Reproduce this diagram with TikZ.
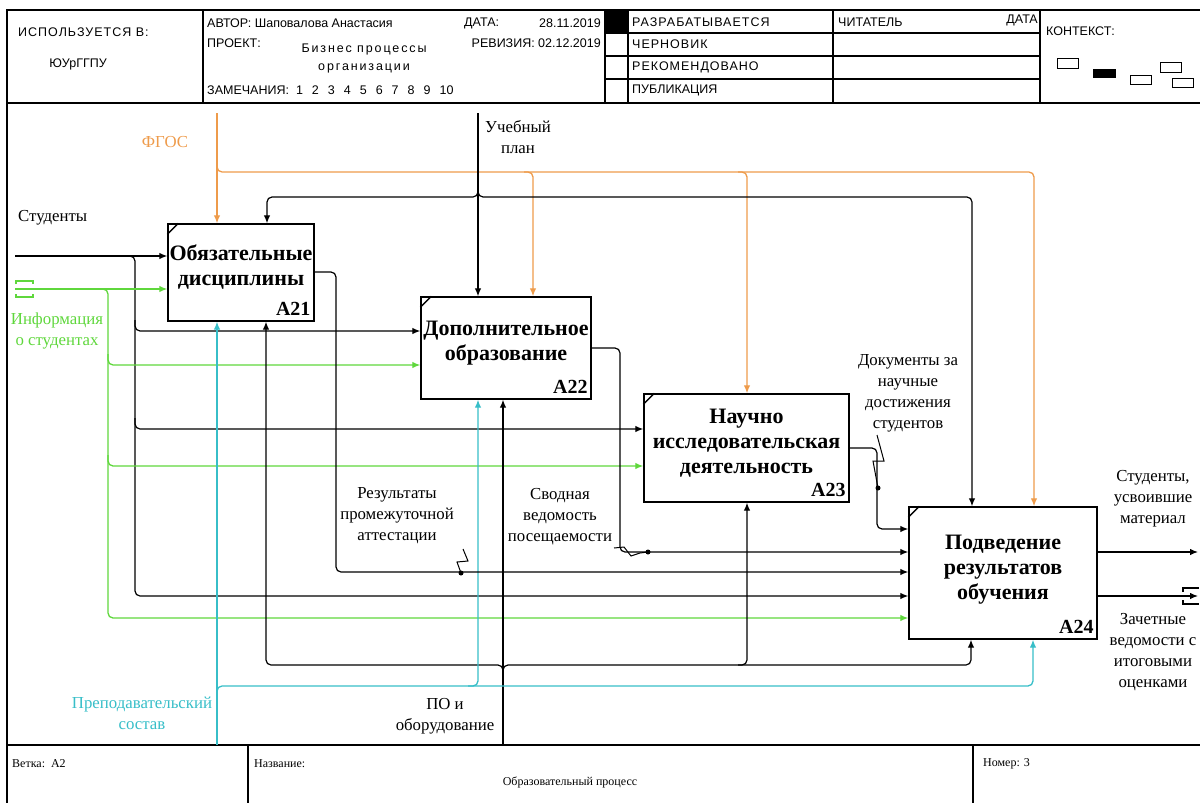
\documentclass[tikz,border=0pt]{standalone}
\usepackage{fontspec}
\setmainfont{Liberation Serif}
\newfontfamily\hdfont{Liberation Sans}
\newfontfamily\hdsp[LetterSpace=15]{Liberation Sans}
\newfontfamily\hdspn[LetterSpace=8]{Liberation Sans}
\usetikzlibrary{arrows.meta}
\definecolor{orng}{RGB}{238,155,75}
\definecolor{grn}{RGB}{95,215,60}
\definecolor{cyn}{RGB}{55,190,200}
\tikzset{
  ln/.style={line width=1.2pt, draw=black},
  arr/.style={-{Latex[length=8pt,width=6.5pt]}},
  rc/.style={rounded corners=5pt},
  og/.style={line width=1.3pt, draw=orng},
  gn/.style={line width=1.3pt, draw=grn},
  cy/.style={line width=1.3pt, draw=cyn},
  fbox/.style={draw, line width=1.4pt, inner sep=0pt},
  ftitle/.style={font=\fontsize{22}{25}\selectfont\bfseries, align=center, inner sep=0pt},
  fnum/.style={font=\fontsize{20}{22}\selectfont\bfseries, inner sep=0pt, anchor=base east},
  lbl/.style={font=\fontsize{16.8}{21}\selectfont, align=center, inner sep=0pt},
  hd/.style={font=\hdfont\fontsize{12.5}{18}\selectfont, inner sep=0pt},
  hdw/.style={font=\hdsp\fontsize{12.5}{18}\selectfont, inner sep=0pt},
  hdn/.style={font=\hdspn\fontsize{12.5}{18}\selectfont, inner sep=0pt},
  ft/.style={font=\fontsize{12}{14}\selectfont, inner sep=0pt},
  frm/.style={line width=1.4pt},
}
\begin{document}
\begin{tikzpicture}[x=1pt,y=-1pt]
\useasboundingbox (0,0) rectangle (1200,803);
% ---------- frame ----------
\draw[frm] (1200,10) -- (7,10) -- (7,803);
\draw[frm] (7,103) -- (1200,103);
\draw[frm] (7,745) -- (1200,745);
\draw[frm] (203,10) -- (203,103);
\draw[frm] (605,10) -- (605,103);
\draw[frm] (628,10) -- (628,103);
\draw[frm] (833,10) -- (833,103);
\draw[frm] (1040,10) -- (1040,103);
\draw[frm] (605,33) -- (1040,33);
\draw[frm] (605,56) -- (1040,56);
\draw[frm] (605,79) -- (1040,79);
\fill (605,10) rectangle (628,33);
\draw[frm] (248,745) -- (248,803);
\draw[frm] (973,745) -- (973,803);
% ---------- header text ----------
\node[hdn, anchor=west] (hUsed) at (18,32) {ИСПОЛЬЗУЕТСЯ В:};
\node[hd] (hOrg) at (78,64) {ЮУрГГПУ};
\node[hd, anchor=west] (hAuth) at (207,23) {АВТОР: Шаповалова Анастасия};
\node[hd, anchor=west] (hDate) at (464,23) {ДАТА:};
\node[hd, anchor=east] (hDateV) at (601,23) {28.11.2019};
\node[hd, anchor=west] (hProj) at (207,43) {ПРОЕКТ:};
\node[hd, anchor=east] (hRev) at (601,43) {РЕВИЗИЯ: 02.12.2019};
\node[hdw, align=center] (hProjV) at (364,58) {Бизнес процессы\\организации};
\node[hd, anchor=west] (hNotes) at (207,90) {ЗАМЕЧАНИЯ:\hspace{7pt}1\hspace{9pt}2\hspace{9pt}3\hspace{9pt}4\hspace{9pt}5\hspace{9pt}6\hspace{9pt}7\hspace{9pt}8\hspace{9pt}9\hspace{9pt}10};
\node[hdn, anchor=west] (hS1) at (632,22) {РАЗРАБАТЫВАЕТСЯ};
\node[hdn, anchor=west] (hS2) at (632,44) {ЧЕРНОВИК};
\node[hdn, anchor=west] (hS3) at (632,67) {РЕКОМЕНДОВАНО};
\node[hd, anchor=west] (hS4) at (632,90) {ПУБЛИКАЦИЯ};
\node[hd, anchor=west] (hRead) at (838,22) {ЧИТАТЕЛЬ};
\node[hd, anchor=east] (hRDate) at (1038,20) {ДАТА};
\node[hd, anchor=west] (hCtx) at (1046,31) {КОНТЕКСТ:};
\draw[line width=1pt] (1057,58) rectangle (1078,68);
\fill (1093,69) rectangle (1116,78);
\draw[line width=1pt] (1130,75) rectangle (1151,84);
\draw[line width=1pt] (1160,62) rectangle (1181,72);
\draw[line width=1pt] (1172,78) rectangle (1193,87);
% ---------- boxes ----------
\node[fbox, minimum width=146pt, minimum height=97pt] (A21) at (241,272.5) {};
\node[fbox, minimum width=170pt, minimum height=102pt] (A22) at (506,348) {};
\node[fbox, minimum width=205pt, minimum height=108pt] (A23) at (746.5,448) {};
\node[fbox, minimum width=188pt, minimum height=132pt] (A24) at (1003,573) {};
\foreach \b in {A21,A22,A23,A24}{
  \draw[line width=1.4pt] ([yshift=-11pt]\b.north west) -- ([xshift=11pt]\b.north west);
}
\node[ftitle] (t21) at ([yshift=5pt]A21.center) {Обязательные\\дисциплины};
\node[ftitle] (t22) at ([yshift=5pt]A22.center) {Дополнительное\\образование};
\node[ftitle] (t23) at ([yshift=5pt]A23.center) {Научно\\исследовательская\\деятельность};
\node[ftitle] (t24) at ([yshift=3pt]A24.center) {Подведение\\результатов\\обучения};
\node[fnum] (n21) at ([xshift=-4pt,yshift=6pt]A21.south east) {A21};
\node[fnum] (n22) at ([xshift=-4pt,yshift=6pt]A22.south east) {A22};
\node[fnum] (n23) at ([xshift=-4pt,yshift=6pt]A23.south east) {A23};
\node[fnum] (n24) at ([xshift=-4pt,yshift=6pt]A24.south east) {A24};
% ---------- terminals ----------
\coordinate (fgos) at (217,113);
\coordinate (plan) at (478,113);
\coordinate (stud) at (15,256);
\coordinate (info) at (15,289);
\coordinate (po) at (503,745);
\coordinate (prep) at (217,745);
\coordinate (o1) at (1198,552);
\coordinate (o2) at (1198,596);
% ---------- ФГОС ----------
\draw[og,arr] (fgos) -- (fgos |- A21.north);
\draw[og,arr,rc] (217,160) -- (217,172) -- (1034,172) -- (1034,172 |- A24.north);
\draw[og,arr,rc] (524,172) -- (533,172) -- (533,172 |- A22.north);
\draw[og,arr,rc] (738,172) -- (747,172) -- (747,172 |- A23.north);
% ---------- Учебный план ----------
\draw[ln,arr] (plan) -- (plan |- A22.north);
\draw[ln,arr,rc] (478,188) -- (478,197) -- (267,197) -- (267,197 |- A21.north);
\draw[ln,arr,rc] (478,188) -- (478,197) -- (972,197) -- (972,197 |- A24.north);
% ---------- Студенты ----------
\draw[ln,arr] (stud) -- (stud -| A21.west);
\draw[ln,arr,rc] (124,256) -- (135,256) -- (135,596) -- (135,596 -| A24.west);
\draw[ln,arr,rc] (135,320) -- (135,331) -- (135,331 -| A22.west);
\draw[ln,arr,rc] (135,418) -- (135,429) -- (135,429 -| A23.west);
% ---------- Информация ----------
\draw[gn] (16,284) -- (16,281) -- (33,281) -- (33,284);
\draw[gn] (16,294) -- (16,297) -- (33,297) -- (33,294);
\draw[gn,arr] (info) -- (info -| A21.west);
\draw[gn,arr,rc] (97,289) -- (108,289) -- (108,618) -- (108,618 -| A24.west);
\draw[gn,arr,rc] (108,354) -- (108,365) -- (108,365 -| A22.west);
\draw[gn,arr,rc] (108,455) -- (108,466) -- (108,466 -| A23.west);
% ---------- ПО и оборудование ----------
\draw[ln,arr] (po) -- (po |- A22.south);
\draw[ln,arr,rc] (503,674) -- (503,665) -- (266,665) -- (266,665 |- A21.south);
\draw[ln,arr,rc] (503,674) -- (503,665) -- (971,665) -- (971,665 |- A24.south);
\draw[ln,arr,rc] (738,665) -- (747,665) -- (747,665 |- A23.south);
% ---------- Преподавательский состав ----------
\draw[cy,arr] (prep) -- (prep |- A21.south);
\draw[cy,arr,rc] (217,696) -- (217,686) -- (1033,686) -- (1033,686 |- A24.south);
\draw[cy,arr,rc] (468,686) -- (478,686) -- (478,686 |- A22.south);
% ---------- internal outputs ----------
\draw[ln,arr,rc] (A21.east |- 0,272) -- (336,272) -- (336,572) -- (336,572 -| A24.west);
\draw[ln,arr,rc] (A22.east |- 0,348) -- (620,348) -- (620,552) -- (620,552 -| A24.west);
\draw[ln,arr,rc] (A23.east |- 0,448) -- (877,448) -- (877,529) -- (877,529 -| A24.west);
% ---------- external outputs ----------
\draw[ln,arr] (A24.east |- o1) -- (o1);
\draw[ln,arr] (A24.east |- o2) -- (o2);
\draw[ln] (1183,592) -- (1183,588) -- (1199,588);
\draw[ln] (1183,600) -- (1183,604) -- (1199,604);
% ---------- squiggles ----------
\draw[line width=1pt] (463,549) -- (468,561) -- (457,562) -- (461,573);
\fill (461,573) circle (2.5pt);
\draw[line width=1pt] (614,548) -- (624,547) -- (631,556) -- (640,553) -- (648,552);
\fill (648,552) circle (2.5pt);
\draw[line width=1pt] (877,435) -- (884,461) -- (873,461) -- (878,488);
\fill (878,488) circle (2.5pt);
% ---------- labels ----------
\node[lbl, text=orng] (tFGOS) at (165,142) {ФГОС};
\node[lbl] (tPlan) at (518,137) {Учебный\\план};
\node[lbl, anchor=west] (tStud) at (18,218) {Студенты};
\node[lbl, text=grn] (tInfo) at (57,331) {Информация\\о студентах};
\node[lbl] (tRes) at (397,516) {Результаты\\промежуточной\\аттестации};
\node[lbl] (tSvod) at (560,517) {Сводная\\ведомость\\посещаемости};
\node[lbl] (tDoc) at (908,393) {Документы за\\научные\\достижения\\студентов};
\node[lbl] (tOut1) at (1153,499) {Студенты,\\усвоившие\\материал};
\node[lbl] (tOut2) at (1153,652) {Зачетные\\ведомости с\\итоговыми\\оценками};
\node[lbl, text=cyn] (tPrep) at (142,713) {Преподавательский\\состав};
\node[lbl] (tPO) at (445,716) {ПО и\\оборудование};
% ---------- footer ----------
\node[ft, anchor=west] (fBr) at (12,764) {Ветка:\ \ A2};
\node[ft, anchor=west] (fNm) at (254,764) {Название:};
\node[ft] (fNmV) at (570,782) {Образовательный процесс};
\node[ft, anchor=west] (fNo) at (983,764) {Номер: 3};
\end{tikzpicture}
\end{document}
